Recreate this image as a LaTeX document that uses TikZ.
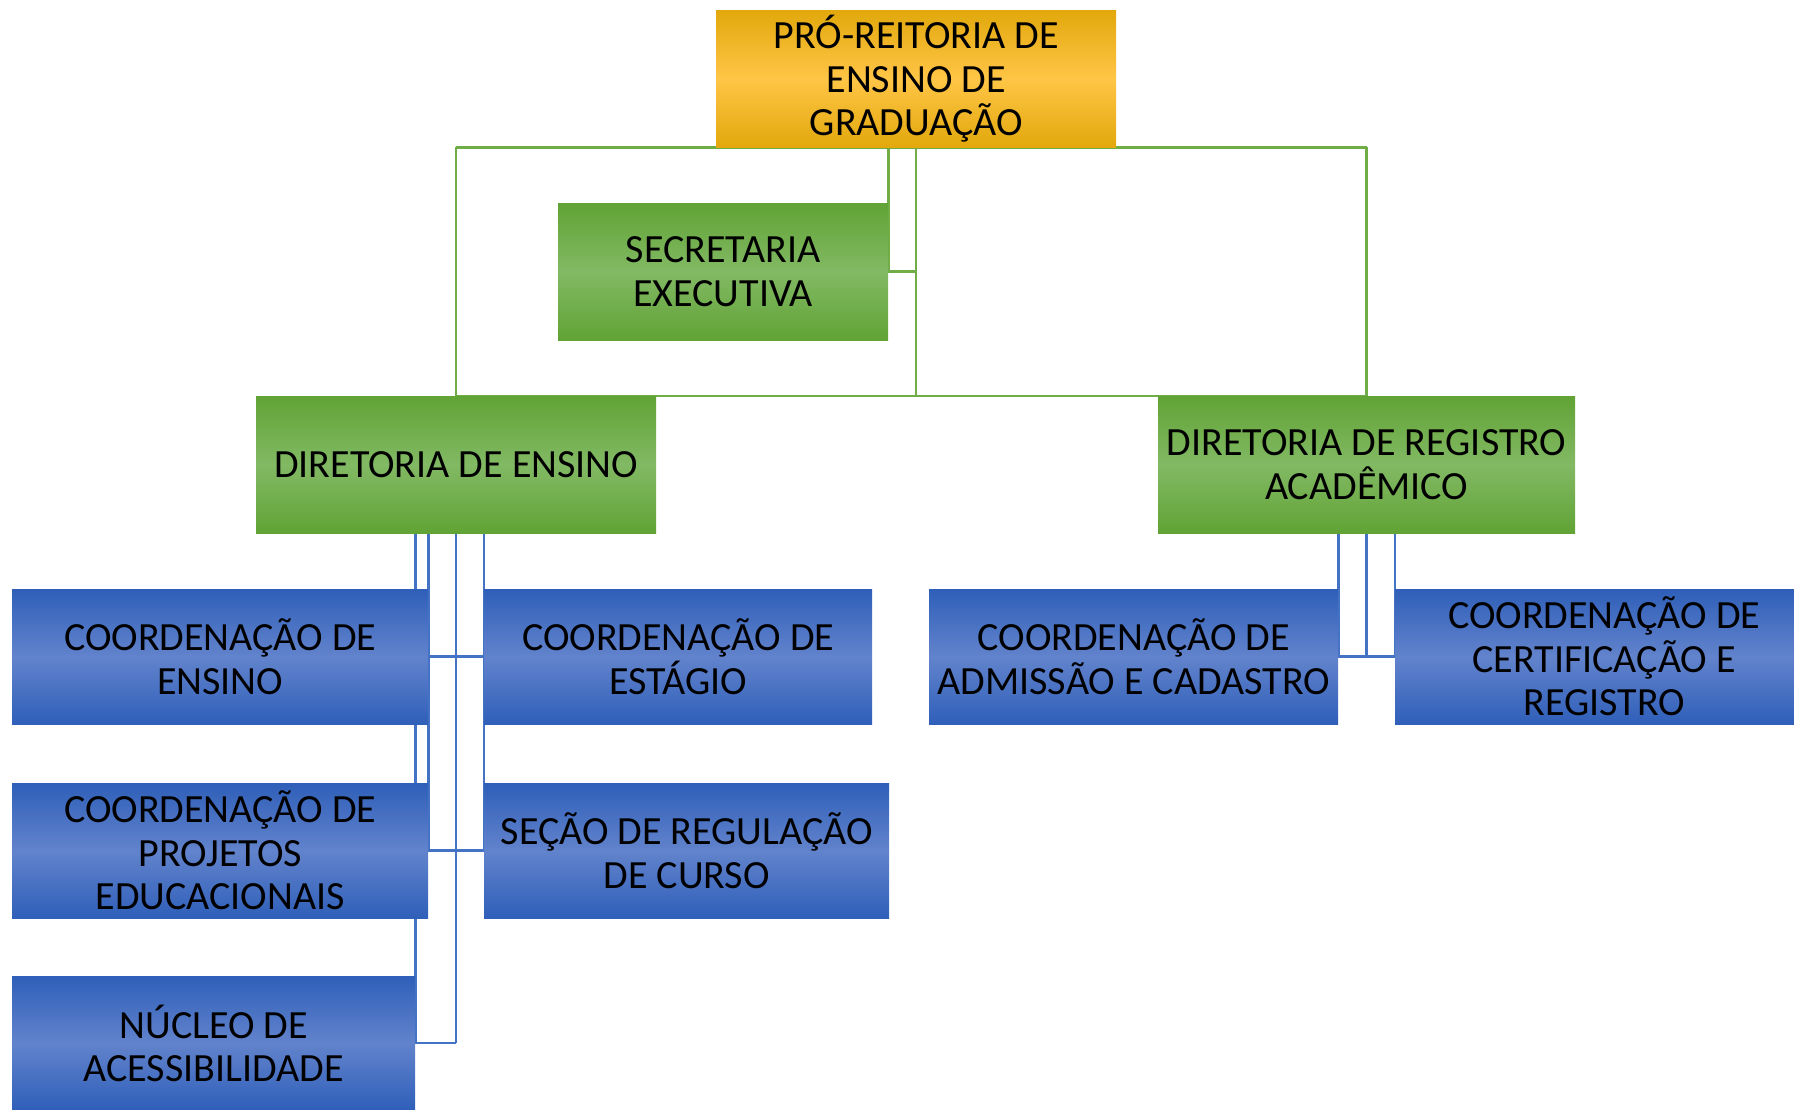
\documentclass[tikz,border=0pt]{standalone}
\usepackage{fontspec}
\setmainfont{Carlito}
\usetikzlibrary{backgrounds}
\definecolor{golddk}{HTML}{E2A80C}
\definecolor{goldlt}{HTML}{FFC546}
\definecolor{greendk}{HTML}{61A335}
\definecolor{greenlt}{HTML}{82B964}
\definecolor{bluedk}{HTML}{2F5FB9}
\definecolor{bluelt}{HTML}{6283CC}
\definecolor{gline}{HTML}{70AD47}
\definecolor{bline}{HTML}{4472C4}
\tikzset{
  orgbox/.style={anchor=north west, inner sep=0pt, align=center,
    font=\fontsize{40}{43.5}\selectfont, text=black},
  goldbox/.style={orgbox, top color=golddk, bottom color=golddk, middle color=goldlt},
  greenbox/.style={orgbox, top color=greendk, bottom color=greendk, middle color=greenlt},
  bluebox/.style={orgbox, top color=bluedk, bottom color=bluedk, middle color=bluelt},
  gconn/.style={draw=gline, line width=2.5pt},
  bconn/.style={draw=bline, line width=2.5pt}
}
\begin{document}
\begin{tikzpicture}[x=1pt,y=-1pt]
\useasboundingbox (0,0) rectangle (1794,1110);
\node[goldbox, minimum width=400pt, minimum height=137pt] (top) at (716,10) {PRÓ-REITORIA DE\\ENSINO DE\\GRADUAÇÃO};
\node[greenbox, minimum width=330pt, minimum height=137pt] (sec) at (558,203) {SECRETARIA\\EXECUTIVA};
\node[greenbox, minimum width=400pt, minimum height=137pt] (de) at (256,396) {DIRETORIA DE ENSINO};
\node[greenbox, minimum width=417pt, minimum height=137pt] (dr) at (1158,396) {DIRETORIA DE REGISTRO\\ACADÊMICO};
\node[bluebox, minimum width=416pt, minimum height=135pt] (ce) at (12,589) {COORDENAÇÃO DE\\ENSINO};
\node[bluebox, minimum width=388pt, minimum height=135pt] (es) at (484,589) {COORDENAÇÃO DE\\ESTÁGIO};
\node[bluebox, minimum width=416pt, minimum height=135pt] (pe) at (12,783) {COORDENAÇÃO DE\\PROJETOS\\EDUCACIONAIS};
\node[bluebox, minimum width=405pt, minimum height=135pt] (sr) at (484,783) {SEÇÃO DE REGULAÇÃO\\DE CURSO};
\node[bluebox, minimum width=403pt, minimum height=134pt] (nu) at (12,976) {NÚCLEO DE\\ACESSIBILIDADE};
\node[bluebox, minimum width=409pt, minimum height=135pt] (ad) at (929,589) {COORDENAÇÃO DE\\ADMISSÃO E CADASTRO};
\node[bluebox, minimum width=418pt, minimum height=135pt] (cr) at (1395,589) {COORDENAÇÃO DE\\CERTIFICAÇÃO E\\REGISTRO};
\begin{scope}[on background layer]
% green connectors
\draw[gconn] (de.north |- top.south) -- (dr.north |- top.south);
\draw[gconn] (de.north |- top.south) -- (de.north) -- (dr.north) -- (dr.north |- top.south);
\draw[gconn] (top.south) -- (top.south |- de.north);
\draw[gconn] (sec.north east |- top.south) -- (sec.east) -- (sec.east -| top.south);
% blue connectors, left
\draw[bconn] (nu.east |- de.south) -- (nu.east) -- (nu.east -| de.south);
\draw[bconn] (de.south) -- (de.south |- nu.east);
\draw[bconn] (ce.east |- de.south) -- (pe.east);
\draw[bconn] (es.west |- de.south) -- (sr.west);
\draw[bconn] (ce.east) -- (es.west);
\draw[bconn] (pe.east) -- (sr.west);
% blue connectors, right
\draw[bconn] (ad.east |- dr.south) -- (ad.east) -- (cr.west) -- (cr.west |- dr.south);
\draw[bconn] (dr.south) -- (dr.south |- ad.east);
\end{scope}
\end{tikzpicture}
\end{document}
